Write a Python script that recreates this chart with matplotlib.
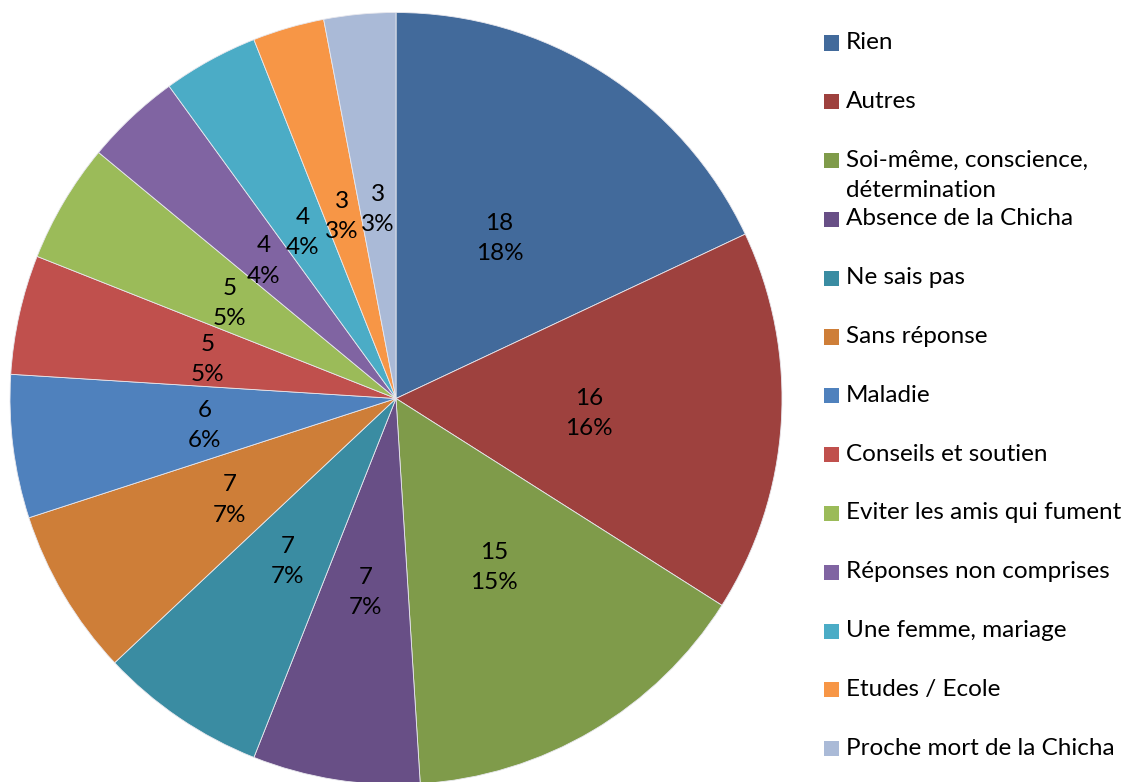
import matplotlib
matplotlib.use("Agg")
import matplotlib.pyplot as plt
from matplotlib.patches import Rectangle
import numpy as np

categories = [
    "Rien",
    "Autres",
    "Soi-même, conscience,\ndétermination",
    "Absence de la Chicha",
    "Ne sais pas",
    "Sans réponse",
    "Maladie",
    "Conseils et soutien",
    "Eviter les amis qui fument",
    "Réponses non comprises",
    "Une femme, mariage",
    "Etudes / Ecole",
    "Proche mort de la Chicha",
]
values = [18, 16, 15, 7, 7, 7, 6, 5, 5, 4, 4, 3, 3]
colors = [
    "#426A9B", "#9E413E", "#7F9B4A", "#684F86", "#3A8CA2", "#CE7E38",
    "#4F81BD", "#C0504D", "#9BBB59", "#8064A2", "#4BACC6", "#F79646",
    "#AABAD7",
]

plt.rcParams["font.family"] = ["Lato", "DejaVu Sans"]
FS = 17.5
LS = 1.55

W, H = 1129, 782
fig = plt.figure(figsize=(W / 100, H / 100), dpi=100)
fig.patch.set_facecolor("white")

# pie geometry in pixels
cx, cy, r = 396, 398.5, 386
ax = fig.add_axes([(cx - r) / W, (H - cy - r) / H, 2 * r / W, 2 * r / H])

total = sum(values)

ax.pie(
    values,
    colors=colors,
    startangle=90,
    counterclock=False,
    radius=1.0,
    wedgeprops=dict(edgecolor="#E8E8EE", linewidth=0.6),
)
ax.set_xlim(-1, 1)
ax.set_ylim(-1, 1)
ax.set_aspect("equal")
ax.axis("off")

# value and percentage labels at half the radius
start = 90.0
for v in values:
    sweep = v / total * 360
    ang = np.radians(start - sweep / 2)
    start -= sweep
    pct = v / total * 100
    ax.text(0.5 * np.cos(ang), 0.5 * np.sin(ang) - 0.008, f"{v}\n{pct:.0f}%",
            ha="center", va="center", fontsize=FS, color="#000000",
            linespacing=LS)

# legend drawn as a column of swatches and labels
y0, step = 43, 58.8
sq = 15
for i, (lab, col) in enumerate(zip(categories, colors)):
    yc = y0 + i * step
    fig.patches.append(Rectangle((824 / W, (H - yc - sq / 2) / H), sq / W, sq / H,
                                 transform=fig.transFigure, facecolor=col,
                                 edgecolor="none"))
    fig.text(846 / W, (H - yc + 11) / H, lab, ha="left", va="top",
             fontsize=FS, color="#000000", linespacing=LS)

fig.savefig("out.png", dpi=100, facecolor="white")
